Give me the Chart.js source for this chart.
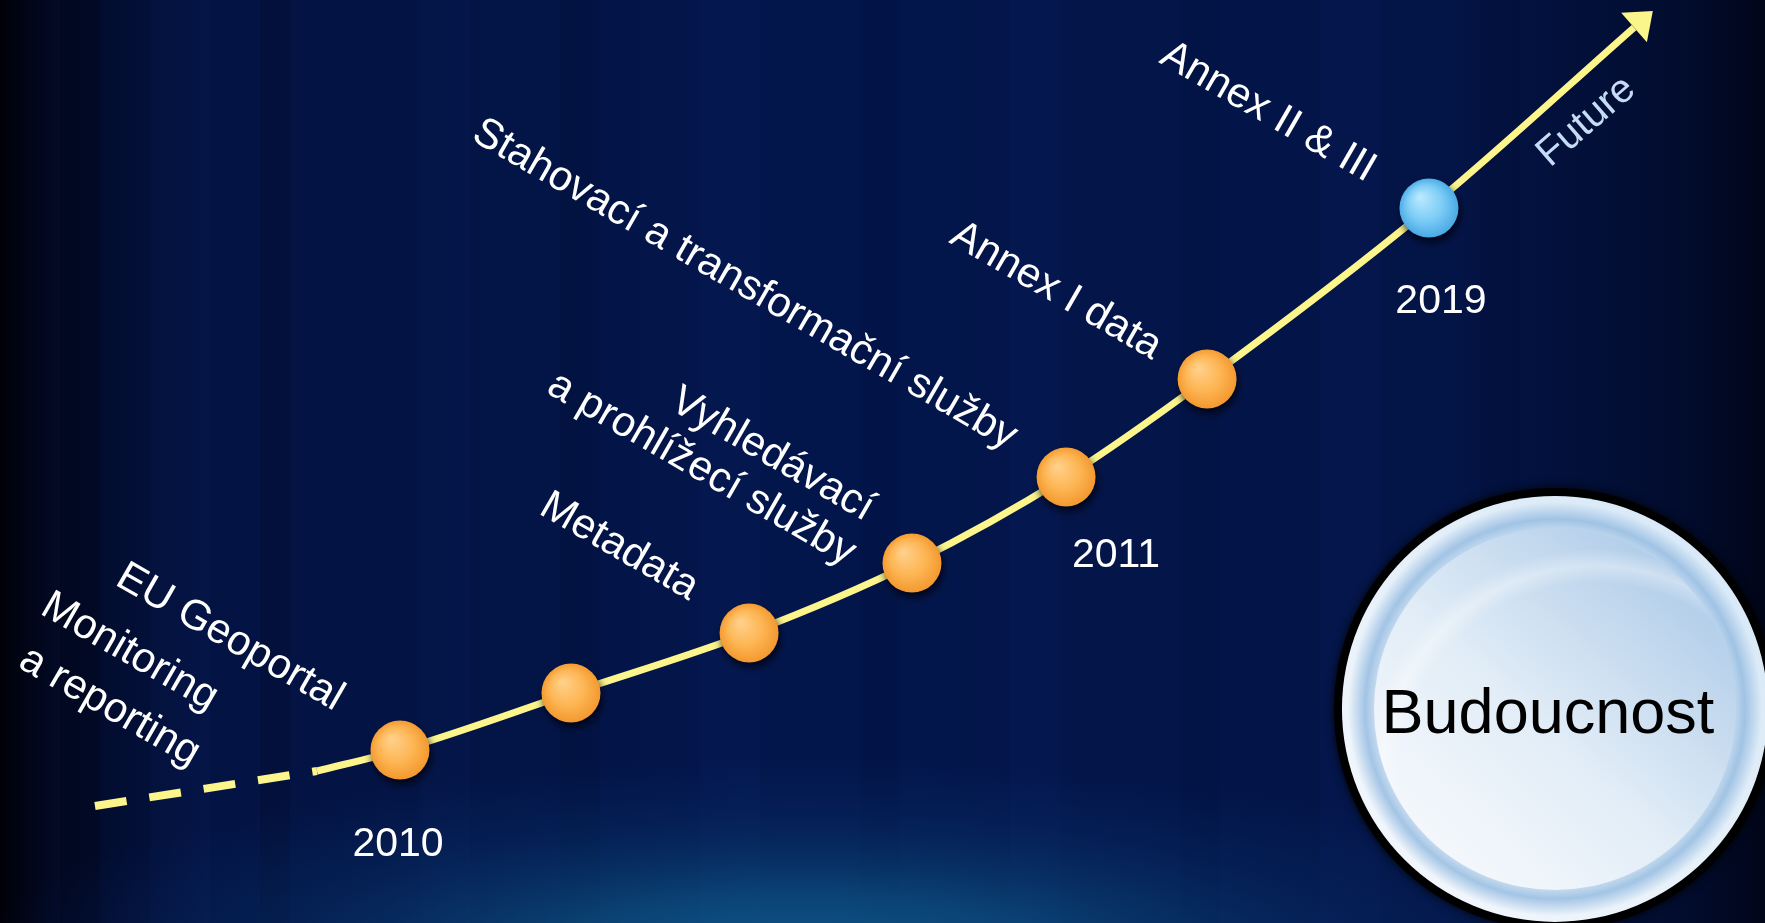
<!DOCTYPE html>
<html>
<head>
<meta charset="utf-8">
<script src="https://cdn.jsdelivr.net/npm/chart.js@4.4.1/dist/chart.umd.min.js"></script>
<style>
html,body{margin:0;padding:0;background:#02154a;overflow:hidden}
canvas{display:block}
</style>
</head>
<body>
<canvas id="c" width="1765" height="923"></canvas>
<script>
// ---------- data (abstract 0..100 units on both axes) ----------
const leadX = [5.38, 17.96];
const leadY = [12.68, 16.47];

const curveX = [17.96, 22.66, 32.35, 42.44, 51.67, 60.40, 68.39, 80.96, 92.58];
const curveY = [16.47, 18.74, 24.92, 31.42, 39.00, 48.32, 58.94, 77.46, 97.02];

const milestoneX = [22.66, 32.35, 42.44, 51.67, 60.40, 68.39, 80.96];
const milestoneY = [18.74, 24.92, 31.42, 39.00, 48.32, 58.94, 77.46];
const milestoneKind = ['past', 'past', 'past', 'past', 'past', 'past', 'future'];

const yearTexts = ['2010', '2011', '2019'];
const yearX = [22.55, 63.23, 81.64];
const yearY = [8.50, 39.75, 67.35];

const labelTexts = ['Monitoring', 'a reporting', 'EU Geoportal', 'Metadata', 'Vyhledávací',
  'a prohlížecí služby', 'Stahovací a transformační služby', 'Annex I data', 'Annex II & III'];
const labelX = [2.20, 0.95, 6.45, 30.45, 37.85, 30.88, 26.63, 53.71, 65.61];
const labelY = [33.59, 27.80, 36.73, 44.42, 55.80, 57.53, 84.90, 73.78, 93.28];

const futureText = 'Future';
const futureX = [87.82];
const futureY = [81.80];

const centerText = 'Budoucnost';
const centerX = [88.10];
const centerY = [23.19];
const centerTextX = [87.70];
const centerTextY = [22.43];

// ---------- styles ----------
const FONT = '"Liberation Sans", Arial, Helvetica, sans-serif';
const LINE_COLOR = '#fcf58c';
const LABEL_ANGLE = 30;
const FUTURE_ANGLE = -41;
const SPHERE_R = 29.5;
const BADGE_R = 221;

function pts(xs, ys) { return xs.map((v, i) => ({x: v, y: ys[i]})); }

function rotText(ctx, text, px, py, deg, font, color, align) {
  ctx.save();
  ctx.translate(px, py);
  ctx.rotate(deg * Math.PI / 180);
  ctx.font = font;
  ctx.fillStyle = color;
  ctx.textAlign = align || 'left';
  ctx.textBaseline = 'alphabetic';
  ctx.fillText(text, 0, 0);
  ctx.restore();
}

function sphere(ctx, x, y, r, c0, c1, c2) {
  ctx.save();
  ctx.shadowColor = 'rgba(0,0,12,0.8)';
  ctx.shadowBlur = 8;
  ctx.shadowOffsetX = 2;
  ctx.shadowOffsetY = 5;
  const g = ctx.createRadialGradient(x - r * 0.3, y - r * 0.38, r * 0.05, x, y, r * 1.05);
  g.addColorStop(0, c0);
  g.addColorStop(0.55, c1);
  g.addColorStop(1, c2);
  ctx.fillStyle = g;
  ctx.beginPath();
  ctx.arc(x, y, r, 0, Math.PI * 2);
  ctx.fill();
  ctx.restore();
}

const backgroundPlugin = {
  id: 'bg',
  beforeDraw(chart) {
    const {ctx, width: w, height: h} = chart;
    ctx.save();
    ctx.fillStyle = '#03164c';
    ctx.fillRect(0, 0, w, h);
    // subtle vertical streaks
    const streaks = [[60,40,0.25],[150,60,-0.08],[260,30,0.12],[420,50,-0.06],[560,40,0.08],[700,60,-0.05],[860,40,0.06],[1010,50,-0.05],[1180,40,0.05],[1320,60,-0.05],[1480,40,0.06]];
    streaks.forEach(s => {
      ctx.fillStyle = s[2] > 0 ? 'rgba(0,0,10,' + s[2] + ')' : 'rgba(40,70,150,' + (-s[2]) + ')';
      ctx.fillRect(s[0], 0, s[1], h);
    });
    // horizontal edge darkening
    const g = ctx.createLinearGradient(0, 0, w, 0);
    g.addColorStop(0, 'rgba(0,0,6,0.97)');
    g.addColorStop(0.035, 'rgba(0,2,14,0.6)');
    g.addColorStop(0.12, 'rgba(0,4,24,0.18)');
    g.addColorStop(0.45, 'rgba(0,0,0,0)');
    g.addColorStop(0.82, 'rgba(0,0,12,0.08)');
    g.addColorStop(0.95, 'rgba(0,0,12,0.45)');
    g.addColorStop(1, 'rgba(0,0,8,0.75)');
    ctx.fillStyle = g;
    ctx.fillRect(0, 0, w, h);
    // bottom cyan glow
    ctx.save();
    ctx.translate(800, h + 30);
    ctx.scale(1, 0.24);
    const rg = ctx.createRadialGradient(0, 0, 0, 0, 0, 820);
    rg.addColorStop(0, 'rgba(18,100,150,0.85)');
    rg.addColorStop(0.3, 'rgba(14,85,135,0.7)');
    rg.addColorStop(0.65, 'rgba(8,55,110,0.35)');
    rg.addColorStop(1, 'rgba(8,40,100,0)');
    ctx.fillStyle = rg;
    ctx.beginPath();
    ctx.arc(0, 0, 820, 0, Math.PI * 2);
    ctx.fill();
    ctx.restore();
    ctx.restore();
  },
  beforeDatasetsDraw(chart) {
    const {ctx, scales: {x, y}} = chart;
    const cx = x.getPixelForValue(centerX[0]);
    const cy = y.getPixelForValue(centerY[0]);
    const R = BADGE_R;
    const circ = r => { ctx.beginPath(); ctx.arc(cx, cy, r, 0, Math.PI * 2); ctx.fill(); };
    ctx.save();
    ctx.shadowColor = 'rgba(0,0,0,0.9)';
    ctx.shadowBlur = 10;
    ctx.fillStyle = '#000';
    circ(R);
    ctx.shadowColor = 'transparent';
    ctx.shadowBlur = 0;
    // outer rim
    let g = ctx.createLinearGradient(cx - R, cy + R, cx + R, cy - R);
    g.addColorStop(0, '#f6f9fd');
    g.addColorStop(0.5, '#e6f0f9');
    g.addColorStop(1, '#d3e6f6');
    ctx.fillStyle = g;
    circ(R - 8);
    // soft bevel band
    const bg = ctx.createRadialGradient(cx, cy, R - 52, cx, cy, R - 14);
    bg.addColorStop(0, 'rgba(150,188,225,0)');
    bg.addColorStop(0.55, 'rgba(150,188,225,0.85)');
    bg.addColorStop(1, 'rgba(150,188,225,0)');
    ctx.fillStyle = bg;
    circ(R - 14);
    // inner disc
    g = ctx.createLinearGradient(cx - R * 0.7, cy + R * 0.7, cx + R * 0.6, cy - R * 0.75);
    g.addColorStop(0, 'rgba(248,250,253,1)');
    g.addColorStop(0.45, 'rgba(226,237,247,1)');
    g.addColorStop(1, 'rgba(171,201,231,1)');
    ctx.fillStyle = g;
    circ(R - 40);
    // gloss
    ctx.save();
    ctx.beginPath();
    ctx.arc(cx, cy, R - 40, 0, Math.PI * 2);
    ctx.clip();
    const hg = ctx.createRadialGradient(cx + 40, cy + 70, 60, cx + 40, cy + 70, 230);
    hg.addColorStop(0, 'rgba(255,255,255,0)');
    hg.addColorStop(0.8, 'rgba(255,255,255,0)');
    hg.addColorStop(0.9, 'rgba(255,255,255,0.35)');
    hg.addColorStop(1, 'rgba(255,255,255,0)');
    ctx.fillStyle = hg;
    ctx.fillRect(cx - R, cy - R, 2 * R, 2 * R);
    ctx.restore();
    ctx.font = '63px ' + FONT;
    ctx.fillStyle = '#000';
    ctx.textAlign = 'center';
    ctx.textBaseline = 'middle';
    ctx.fillText(centerText, x.getPixelForValue(centerTextX[0]), y.getPixelForValue(centerTextY[0]));
    ctx.restore();
  },
  afterDatasetsDraw(chart) {
    const {ctx} = chart;
    // arrow head at end of curve
    const cm = chart.getDatasetMeta(1).data;
    const a = cm[cm.length - 2], b = cm[cm.length - 1];
    const dx = b.x - a.x, dy = b.y - a.y, L = Math.hypot(dx, dy);
    const ux = dx / L, uy = dy / L, px = -uy, py = ux;
    ctx.save();
    ctx.fillStyle = LINE_COLOR;
    ctx.beginPath();
    ctx.moveTo(b.x + ux * 25, b.y + uy * 25);
    ctx.lineTo(b.x + px * 19.5, b.y + py * 19.5);
    ctx.lineTo(b.x - px * 19.5, b.y - py * 19.5);
    ctx.closePath();
    ctx.fill();
    ctx.restore();
    // milestone spheres
    const mm = chart.getDatasetMeta(2).data;
    mm.forEach((el, i) => {
      if (milestoneKind[i] === 'future') {
        sphere(ctx, el.x, el.y, SPHERE_R, '#b8e8fd', '#7ccdf6', '#45a6e3');
      } else {
        sphere(ctx, el.x, el.y, SPHERE_R, '#ffd08a', '#fdb553', '#f2962c');
      }
    });
  },
  afterDraw(chart) {
    const {ctx, scales: {x, y}} = chart;
    yearTexts.forEach((t, i) => {
      ctx.save();
      ctx.font = '41px ' + FONT;
      ctx.fillStyle = '#ffffff';
      ctx.textAlign = 'center';
      ctx.textBaseline = 'middle';
      ctx.fillText(t, x.getPixelForValue(yearX[i]), y.getPixelForValue(yearY[i]));
      ctx.restore();
    });
    labelTexts.forEach((t, i) => {
      rotText(ctx, t, x.getPixelForValue(labelX[i]), y.getPixelForValue(labelY[i]), LABEL_ANGLE, '42px ' + FONT, '#ffffff', 'left');
    });
    rotText(ctx, futureText, x.getPixelForValue(futureX[0]), y.getPixelForValue(futureY[0]), FUTURE_ANGLE, '40px ' + FONT, '#c4dcf6', 'left');
  }
};

new Chart(document.getElementById('c'), {
  type: 'line',
  data: {
    datasets: [
      {
        label: 'lead',
        data: pts(leadX, leadY),
        borderColor: LINE_COLOR,
        borderWidth: 8,
        borderDash: [32, 23],
        borderCapStyle: 'butt',
        pointRadius: 0,
        tension: 0,
        clip: false
      },
      {
        label: 'curve',
        data: pts(curveX, curveY),
        borderColor: LINE_COLOR,
        borderWidth: 7,
        borderCapStyle: 'butt',
        pointRadius: 0,
        cubicInterpolationMode: 'monotone',
        clip: false
      },
      {
        label: 'milestones',
        data: pts(milestoneX, milestoneY),
        showLine: false,
        pointRadius: 0,
        pointHoverRadius: 0,
        clip: false
      }
    ]
  },
  options: {
    responsive: false,
    animation: false,
    events: [],
    layout: {padding: 0},
    scales: {
      x: {type: 'linear', min: 0, max: 100, display: false},
      y: {type: 'linear', min: 0, max: 100, display: false}
    },
    plugins: {
      legend: {display: false},
      tooltip: {enabled: false},
      title: {display: false}
    }
  },
  plugins: [backgroundPlugin]
});
</script>
</body>
</html>
